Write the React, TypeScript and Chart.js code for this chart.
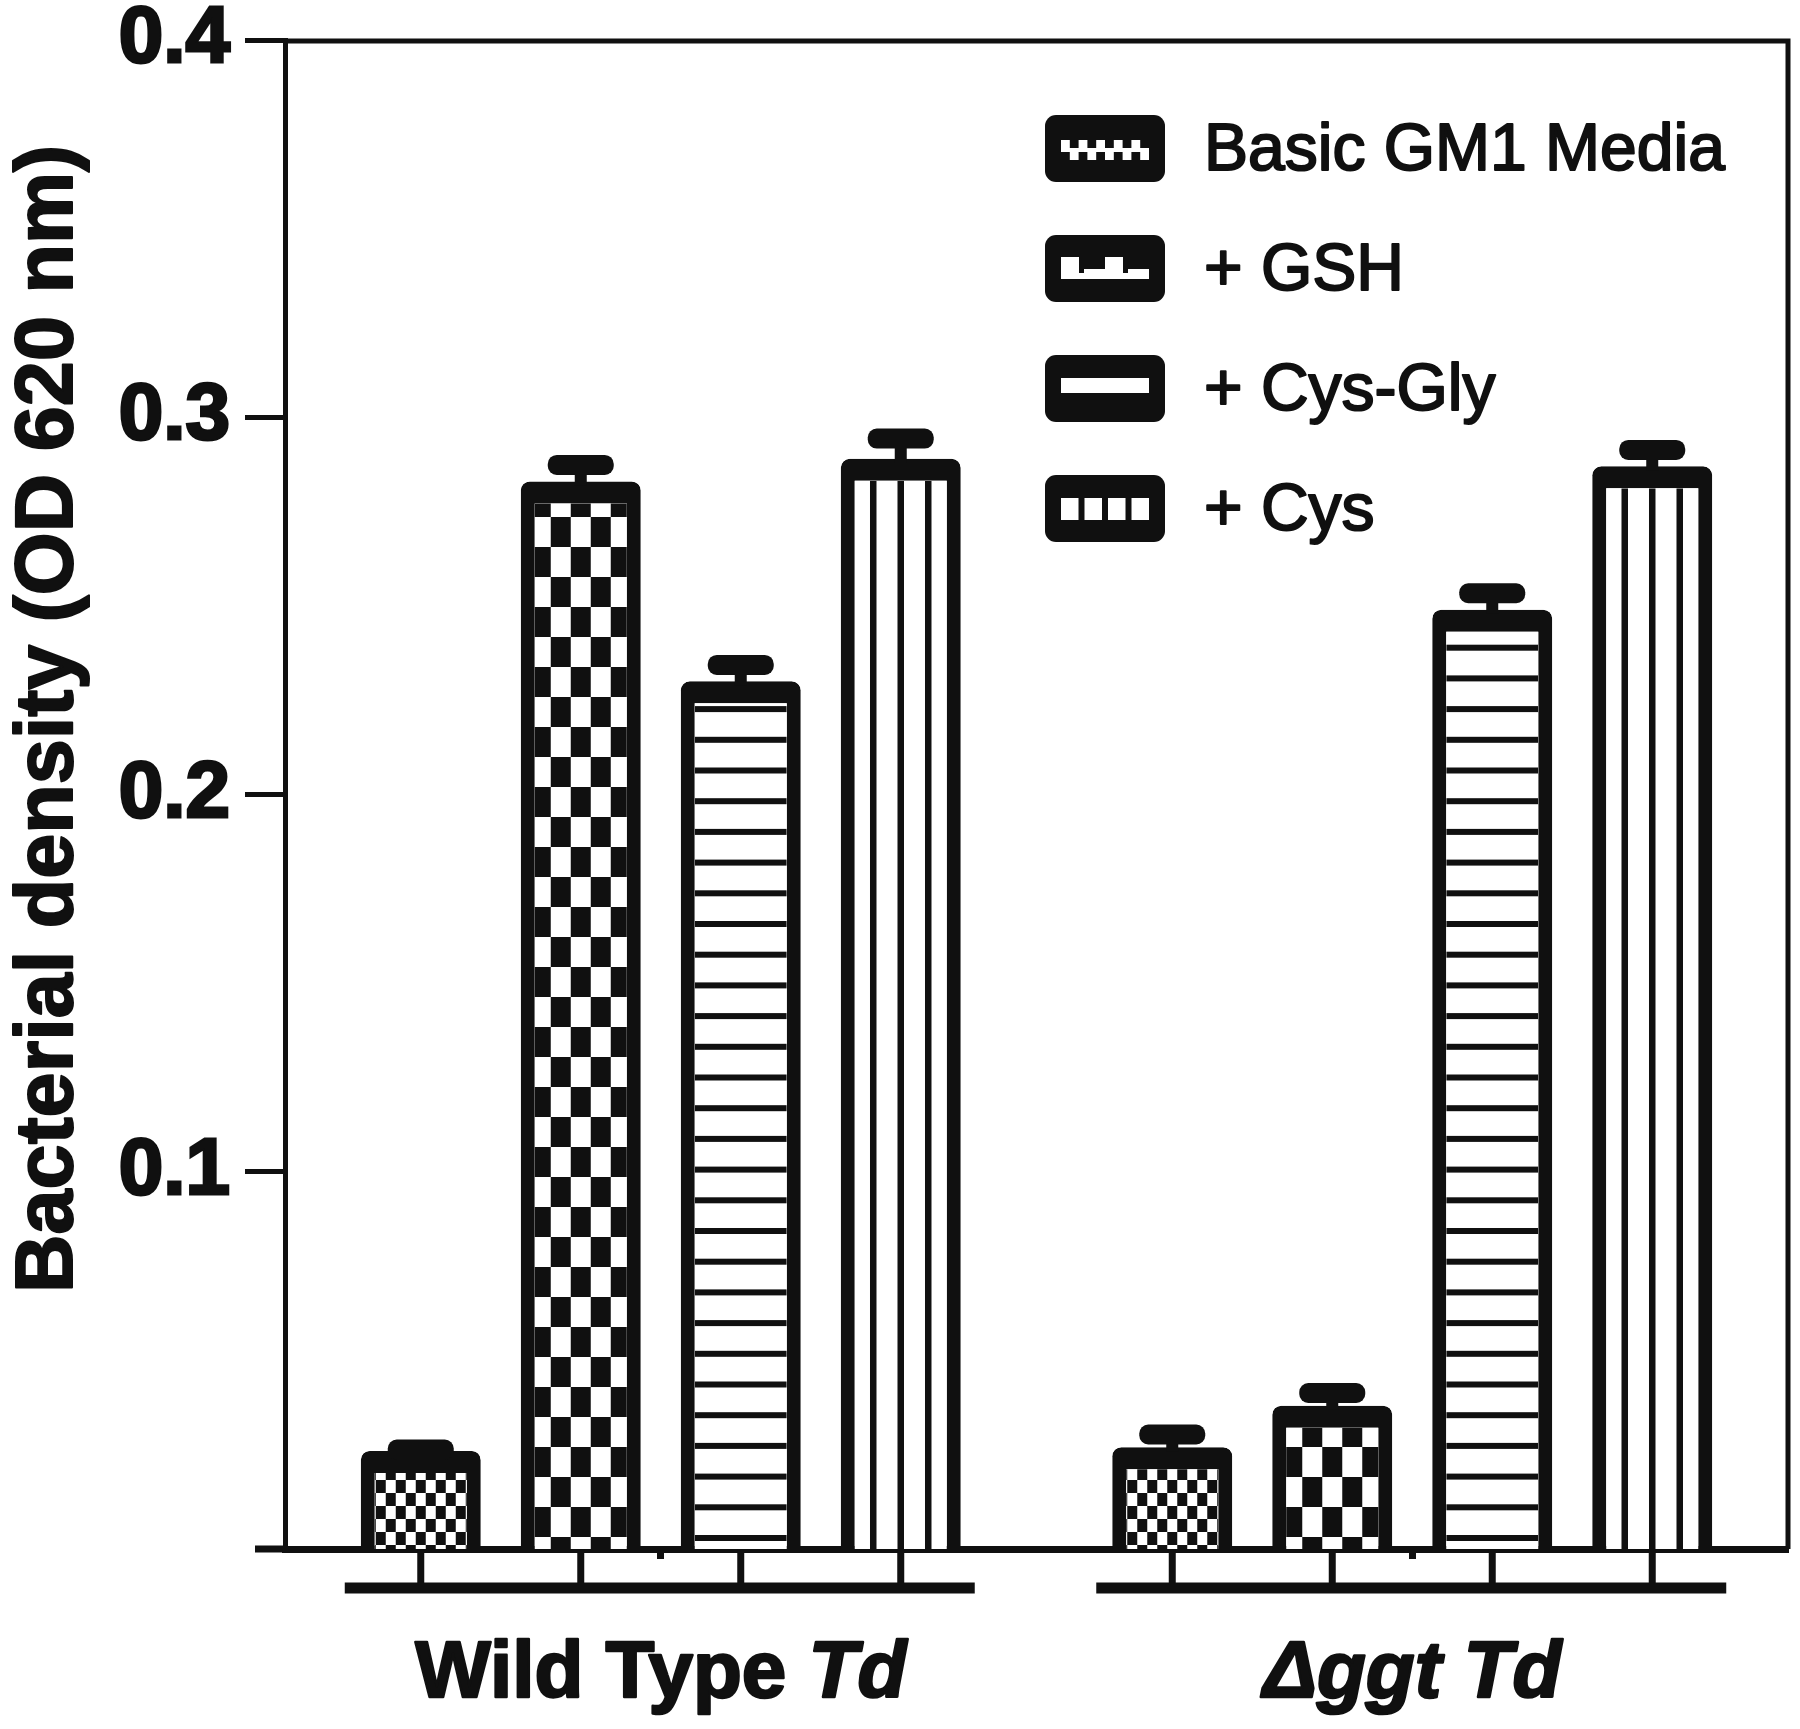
import React, { useEffect, useRef } from "react";
import { Chart, registerables } from "chart.js";

Chart.register(...registerables);

// ---------------- data ----------------
const groupLabels = ["Wild Type Td", "Δggt Td"];
const groupPlainPart = ["Wild Type ", ""];
const groupItalicPart = ["Td", "Δggt Td"];

const seriesNames = ["Basic GM1 Media", "+ GSH", "+ Cys-Gly", "+ Cys"];

const basicGM1 = [0.026, 0.027];
const plusGSH = [0.283, 0.038];
const plusCysGly = [0.23, 0.249];
const plusCys = [0.289, 0.287];

const basicGM1Err = [0.003, 0.006];
const plusGSHErr = [0.007, 0.006];
const plusCysGlyErr = [0.007, 0.007];
const plusCysErr = [0.008, 0.007];

const yTickValues = [0.1, 0.2, 0.3, 0.4];
const yTitle = "Bacterial density (OD 620 nm)";

const seriesValues = [basicGM1, plusGSH, plusCysGly, plusCys];
const seriesErrors = [basicGM1Err, plusGSHErr, plusCysGlyErr, plusCysErr];
const patternKinds = ["smallChecker", "bigChecker", "hStripes", "vStripes"];

// ---------------- style ----------------
const INK = "#101010";
const FONT = "'Liberation Sans', Arial, Helvetica, sans-serif";
const BW_SIDE = 14;
const BW_TOP = 22;

function drawChecker(ctx: CanvasRenderingContext2D, cx: number, base: number, top: number, cw: number, ch: number, off: number) {
  ctx.fillStyle = INK;
  const rows = Math.ceil((base - top) / ch) + 2;
  for (let r = -1; r < rows; r++) {
    const y1 = base - off - (r + 1) * ch;
    for (let c = -8; c <= 8; c++) {
      if (((r + c) % 2 + 2) % 2 !== 0) continue;
      const x1 = cx + c * cw - cw / 2;
      ctx.fillRect(x1, y1, cw, ch);
    }
  }
}

function drawPattern(ctx: CanvasRenderingContext2D, kind: string, cx: number, base: number, top: number, left: number, right: number) {
  ctx.fillStyle = INK;
  if (kind === "smallChecker") {
    drawChecker(ctx, cx, base, top, 10, 13, 4);
  } else if (kind === "bigChecker") {
    drawChecker(ctx, cx, base, top, 20, 30, 12);
  } else if (kind === "hStripes") {
    const period = 30.7;
    for (let k = 0; ; k++) {
      const yc = base - 11 - k * period;
      if (yc < top - 10) break;
      ctx.fillRect(left, yc - 3, right - left, 6);
    }
  } else if (kind === "vStripes") {
    [-27.5, 0, 27.5].forEach((dx) => {
      ctx.fillRect(cx + dx - 3.25, top, 6.5, base - top);
    });
  }
}

function drawLegendMarker(ctx: CanvasRenderingContext2D, i: number, left: number, top: number) {
  const w = 120, h = 67;
  ctx.fillStyle = INK;
  ctx.beginPath();
  (ctx as any).roundRect(left, top, w, h, 11);
  ctx.fill();
  const il = left + 16, iw = 88;
  ctx.fillStyle = "#fff";
  if (i === 0) {
    const it = top + 25, ih = 20;
    const cols = 10, cw = iw / cols;
    for (let r = 0; r < 2; r++) {
      for (let c = 0; c < cols; c++) {
        if ((r + c) % 2 === 0) ctx.fillRect(il + c * cw, it + r * (ih / 2), cw, ih / 2);
      }
    }
    ctx.fillRect(il, it + 8, iw, 4);
  } else if (i === 1) {
    const it = top + 22;
    const cw = iw / 4;
    for (let c = 0; c < 4; c++) {
      if (c % 2 === 0) ctx.fillRect(il + c * cw, it, cw - 4, 12);
    }
    ctx.fillRect(il, it + 12, iw, 10);
    ctx.fillStyle = INK;
    ctx.fillRect(il + cw - 4, it + 12, 5, 4);
    ctx.fillRect(il + 3 * cw - 4, it + 12, 5, 4);
  } else if (i === 2) {
    ctx.fillRect(il, top + 23, iw, 15);
  } else {
    const gap = 6;
    const sw = (iw - 3 * gap) / 4;
    for (let c = 0; c < 4; c++) ctx.fillRect(il + c * (sw + gap), top + 23, sw, 22);
  }
}

function heavyText(ctx: CanvasRenderingContext2D, text: string, x: number, y: number, stroke: number) {
  ctx.fillText(text, x, y);
  if (stroke > 0) {
    ctx.lineWidth = stroke;
    ctx.strokeStyle = INK;
    ctx.lineJoin = "round";
    ctx.strokeText(text, x, y);
  }
}

const decorPlugin = {
  id: "decor",
  afterDatasetsDraw(chart: any) {
    const ctx: CanvasRenderingContext2D = chart.ctx;
    const ys = chart.scales.y;
    const area = chart.chartArea;
    chart.data.datasets.forEach((_ds: any, di: number) => {
      const meta = chart.getDatasetMeta(di);
      meta.data.forEach((el: any, j: number) => {
        const { x, y, base, width } = el.getProps(["x", "y", "base", "width"], true);
        const l = x - width / 2 + BW_SIDE;
        const r = x + width / 2 - BW_SIDE;
        const t = y + BW_TOP;
        ctx.save();
        ctx.beginPath();
        ctx.rect(l, t, r - l, base - t);
        ctx.clip();
        drawPattern(ctx, patternKinds[di], x, base, t, l, r);
        ctx.restore();

        // error bar (mean + SEM)
        const v = seriesValues[di][j];
        const e = seriesErrors[di][j];
        const capTop = ys.getPixelForValue(v + e);
        ctx.fillStyle = INK;
        ctx.fillRect(x - 6, capTop + 10, 12, Math.max(0, y - capTop - 6));
        ctx.beginPath();
        (ctx as any).roundRect(x - 33, capTop, 66, 20, 9);
        ctx.fill();
      });
    });
    // frame (top and right)
    ctx.save();
    ctx.strokeStyle = INK;
    ctx.lineWidth = 5;
    ctx.lineJoin = "miter";
    ctx.beginPath();
    ctx.moveTo(area.left, area.top + 1);
    ctx.lineTo(area.right, area.top + 1);
    ctx.lineTo(area.right, area.bottom);
    ctx.stroke();
    ctx.restore();
  },
  afterDraw(chart: any) {
    const ctx: CanvasRenderingContext2D = chart.ctx;
    const area = chart.chartArea;
    const xs = chart.scales.x;
    ctx.save();
    ctx.fillStyle = INK;
    // baseline extension to the left of the y axis
    ctx.fillRect(area.left - 30, area.bottom - 3.5, 30, 7);

    // group brackets and ticks under each bar
    groupLabels.forEach((_g, j) => {
      let minL = Infinity, maxR = -Infinity;
      chart.data.datasets.forEach((_ds: any, di: number) => {
        const el = chart.getDatasetMeta(di).data[j];
        const { x, width } = el.getProps(["x", "width"], true);
        minL = Math.min(minL, x - width / 2);
        maxR = Math.max(maxR, x + width / 2);
        ctx.fillRect(x - 3.5, area.bottom, 7, 36);
      });
      ctx.fillRect(minL - 16, area.bottom + 33.5, maxR - minL + 30, 11);

      // group label with italic part
      const cx = xs.getPixelForValue(j);
      const plain = groupPlainPart[j];
      const ital = groupItalicPart[j];
      const fPlain = `bold 80px ${FONT}`;
      const fItal = `italic bold 80px ${FONT}`;
      ctx.font = fPlain;
      const wp = ctx.measureText(plain).width;
      ctx.font = fItal;
      const wi = ctx.measureText(ital).width;
      const sx = cx - (wp + wi) / 2;
      ctx.textBaseline = "alphabetic";
      ctx.textAlign = "left";
      ctx.fillStyle = INK;
      ctx.font = fPlain;
      heavyText(ctx, plain, sx, area.bottom + 148, 2.5);
      ctx.font = fItal;
      heavyText(ctx, ital, sx + wp, area.bottom + 148, 2.5);
    });

    // y axis title
    ctx.save();
    ctx.translate(72, 719);
    ctx.rotate(-Math.PI / 2);
    ctx.font = `bold 81px ${FONT}`;
    ctx.textAlign = "center";
    ctx.textBaseline = "alphabetic";
    ctx.fillStyle = INK;
    heavyText(ctx, yTitle, 0, 0, 2);
    ctx.restore();

    // legend
    chart.data.datasets.forEach((ds: any, i: number) => {
      const cy = 148.5 + i * 120;
      drawLegendMarker(ctx, i, 1045, cy - 33.5);
      ctx.fillStyle = INK;
      ctx.font = `66px ${FONT}`;
      ctx.textAlign = "left";
      ctx.textBaseline = "alphabetic";
      heavyText(ctx, ds.label, 1204, cy + 21, 2);
    });
    ctx.restore();
  },
};

export default function App() {
  const ref = useRef<HTMLCanvasElement>(null);
  useEffect(() => {
    document.body.style.margin = "0";
    document.body.style.overflow = "hidden";
    const canvas = ref.current!;
    const chart = new Chart(canvas, {
      type: "bar",
      data: {
        labels: groupLabels,
        datasets: seriesNames.map((name, i) => ({
          label: name,
          data: seriesValues[i],
          backgroundColor: "#ffffff",
          borderColor: INK,
          borderWidth: { top: BW_TOP, left: BW_SIDE, right: BW_SIDE, bottom: 0 },
          borderSkipped: "start",
          borderRadius: { topLeft: 9, topRight: 9, bottomLeft: 0, bottomRight: 0 },
          categoryPercentage: 0.8516,
          barPercentage: 0.75,
        })),
      },
      options: {
        responsive: false,
        animation: false,
        devicePixelRatio: 1,
        layout: { padding: { top: 40, right: 12, left: 0, bottom: 0 } },
        plugins: {
          legend: { display: false },
          tooltip: { enabled: false },
        },
        scales: {
          x: {
            type: "category",
            z: 1,
            afterFit: (s: any) => {
              s.height = 180;
            },
            grid: {
              display: true,
              drawOnChartArea: false,
              offset: false,
              tickLength: 10,
              tickWidth: 7,
              tickColor: INK,
            },
            border: { display: true, color: INK, width: 7 },
            ticks: { display: false },
          },
          y: {
            type: "linear",
            min: 0,
            max: 0.4,
            afterFit: (s: any) => {
              s.width = 285;
            },
            afterBuildTicks: (s: any) => {
              s.ticks = [0, ...yTickValues].map((v) => ({ value: v }));
            },
            grid: {
              display: true,
              drawOnChartArea: false,
              tickLength: 40,
              tickWidth: 5,
              tickColor: INK,
            },
            border: { display: true, color: INK, width: 5 },
            ticks: {
              padding: 15,
              color: INK,
              textStrokeColor: INK,
              textStrokeWidth: 3,
              font: { family: FONT, size: 80, weight: "bold", lineHeight: 0.6 },
              callback: (v: any) => (Math.abs(Number(v)) < 1e-9 ? null : Number(v).toFixed(1)),
            },
          },
        },
      } as any,
      plugins: [decorPlugin],
    });
    return () => chart.destroy();
  }, []);
  return (
    <canvas
      ref={ref}
      width={1800}
      height={1729}
      style={{ display: "block", width: 1800, height: 1729 }}
    />
  );
}
